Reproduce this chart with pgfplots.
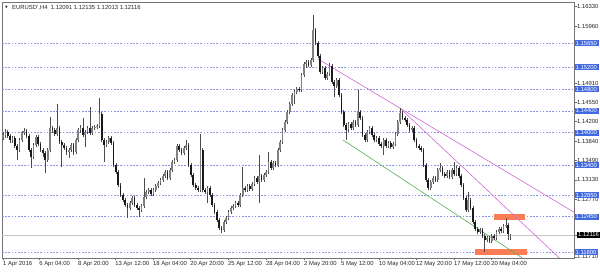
\documentclass[border=0pt]{standalone}
\usepackage{fontspec}
\setmainfont{Liberation Sans}
\newfontfamily\dv{DejaVu Sans}
\usepackage{pgfplots}
\usepackage{pgfplotstable}
\pgfplotsset{compat=1.18}
\definecolor{lblue}{RGB}{65,105,225}
\definecolor{gridblue}{RGB}{135,145,232}
\definecolor{pinkline}{RGB}{205,105,210}
\definecolor{greenline}{RGB}{85,175,85}
\definecolor{orangebox}{RGB}{250,125,85}
\newcommand{\lbl}{\fontsize{5.9}{6.6}\selectfont}
\setlength{\fboxsep}{0.9pt}
\newcommand{\bl}[1]{\colorbox{lblue}{\lbl\textcolor{white}{#1}\hspace{0.8pt}}}
\newcommand{\bk}[1]{\colorbox{black}{\lbl\textcolor{white}{#1}\hspace{0.8pt}}}

\pgfplotstableread{
i o h l c
0 1.1390 1.1401 1.1386 1.1396
1 1.1396 1.1406 1.1390 1.1401
2 1.1401 1.1405 1.1390 1.1394
3 1.1394 1.1398 1.1381 1.1386
4 1.1386 1.1394 1.1381 1.1390
5 1.1390 1.1393 1.1371 1.1375
6 1.1375 1.1379 1.1350 1.1368
7 1.1368 1.1390 1.1364 1.1386
8 1.1386 1.1403 1.1383 1.1399
9 1.1399 1.1408 1.1395 1.1403
10 1.1403 1.1407 1.1390 1.1394
11 1.1394 1.1397 1.1364 1.1368
12 1.1368 1.1372 1.1335 1.1355
13 1.1355 1.1381 1.1351 1.1377
14 1.1377 1.1396 1.1373 1.1392
15 1.1392 1.1395 1.1375 1.1379
16 1.1379 1.1383 1.1364 1.1368
17 1.1368 1.1372 1.1355 1.1362
18 1.1362 1.1366 1.1326 1.1350
19 1.1350 1.1372 1.1346 1.1368
20 1.1368 1.1429 1.1364 1.1408
21 1.1408 1.1412 1.1399 1.1405
22 1.1405 1.1409 1.1393 1.1397
23 1.1397 1.1453 1.1394 1.1408
24 1.1408 1.1412 1.1379 1.1383
25 1.1383 1.1387 1.1337 1.1377
26 1.1377 1.1381 1.1368 1.1372
27 1.1372 1.1376 1.1359 1.1364
28 1.1364 1.1372 1.1353 1.1368
29 1.1368 1.1381 1.1364 1.1377
30 1.1377 1.1380 1.1359 1.1364
31 1.1364 1.1390 1.1360 1.1386
32 1.1386 1.1409 1.1382 1.1405
33 1.1405 1.1413 1.1400 1.1408
34 1.1408 1.1427 1.1392 1.1396
35 1.1396 1.1405 1.1373 1.1401
36 1.1401 1.1412 1.1397 1.1408
37 1.1408 1.1447 1.1395 1.1399
38 1.1399 1.1412 1.1395 1.1408
39 1.1408 1.1414 1.1404 1.1410
40 1.1410 1.1416 1.1406 1.1412
41 1.1412 1.1464 1.1408 1.1434
42 1.1434 1.1438 1.1382 1.1386
43 1.1386 1.1390 1.1346 1.1377
44 1.1377 1.1387 1.1373 1.1383
45 1.1383 1.1394 1.1379 1.1390
46 1.1390 1.1394 1.1377 1.1381
47 1.1381 1.1385 1.1336 1.1340
48 1.1340 1.1344 1.1323 1.1327
49 1.1327 1.1331 1.1299 1.1303
50 1.1303 1.1307 1.1281 1.1285
51 1.1285 1.1289 1.1272 1.1276
52 1.1276 1.1280 1.1263 1.1267
53 1.1267 1.1271 1.1243 1.1261
54 1.1261 1.1274 1.1257 1.1270
55 1.1270 1.1284 1.1266 1.1280
56 1.1280 1.1284 1.1263 1.1267
57 1.1267 1.1271 1.1257 1.1261
58 1.1261 1.1265 1.1245 1.1257
59 1.1257 1.1269 1.1253 1.1265
60 1.1265 1.1316 1.1261 1.1281
61 1.1281 1.1295 1.1277 1.1291
62 1.1291 1.1298 1.1287 1.1294
63 1.1294 1.1298 1.1283 1.1287
64 1.1287 1.1298 1.1283 1.1294
65 1.1294 1.1306 1.1290 1.1302
66 1.1302 1.1311 1.1298 1.1307
67 1.1307 1.1317 1.1303 1.1313
68 1.1313 1.1324 1.1309 1.1320
69 1.1320 1.1331 1.1316 1.1327
70 1.1327 1.1331 1.1312 1.1316
71 1.1316 1.1335 1.1312 1.1331
72 1.1331 1.1350 1.1327 1.1346
73 1.1346 1.1354 1.1342 1.1350
74 1.1350 1.1379 1.1346 1.1375
75 1.1375 1.1379 1.1364 1.1368
76 1.1368 1.1372 1.1358 1.1362
77 1.1362 1.1376 1.1358 1.1372
78 1.1372 1.1386 1.1368 1.1377
79 1.1377 1.1381 1.1336 1.1340
80 1.1340 1.1344 1.1318 1.1322
81 1.1322 1.1326 1.1299 1.1303
82 1.1303 1.1307 1.1294 1.1298
83 1.1298 1.1302 1.1290 1.1294
84 1.1294 1.1397 1.1290 1.1368
85 1.1368 1.1372 1.1290 1.1294
86 1.1294 1.1298 1.1287 1.1291
87 1.1291 1.1302 1.1270 1.1298
88 1.1298 1.1302 1.1281 1.1285
89 1.1285 1.1289 1.1263 1.1267
90 1.1267 1.1271 1.1250 1.1254
91 1.1254 1.1258 1.1235 1.1239
92 1.1239 1.1243 1.1220 1.1224
93 1.1224 1.1228 1.1215 1.1221
94 1.1221 1.1239 1.1217 1.1235
95 1.1235 1.1247 1.1231 1.1243
96 1.1243 1.1258 1.1239 1.1254
97 1.1254 1.1265 1.1250 1.1261
98 1.1261 1.1269 1.1257 1.1265
99 1.1265 1.1274 1.1261 1.1270
100 1.1270 1.1274 1.1263 1.1267
101 1.1267 1.1289 1.1263 1.1285
102 1.1285 1.1337 1.1281 1.1298
103 1.1298 1.1302 1.1290 1.1294
104 1.1294 1.1306 1.1290 1.1302
105 1.1302 1.1306 1.1292 1.1296
106 1.1296 1.1309 1.1292 1.1305
107 1.1305 1.1320 1.1301 1.1316
108 1.1316 1.1320 1.1305 1.1309
109 1.1309 1.1359 1.1270 1.1320
110 1.1320 1.1324 1.1309 1.1313
111 1.1313 1.1326 1.1309 1.1322
112 1.1322 1.1331 1.1318 1.1327
113 1.1327 1.1364 1.1323 1.1346
114 1.1346 1.1350 1.1331 1.1335
115 1.1335 1.1348 1.1331 1.1344
116 1.1344 1.1348 1.1336 1.1340
117 1.1340 1.1372 1.1336 1.1368
118 1.1368 1.1387 1.1364 1.1383
119 1.1383 1.1409 1.1379 1.1405
120 1.1405 1.1424 1.1401 1.1420
121 1.1420 1.1442 1.1416 1.1438
122 1.1438 1.1457 1.1434 1.1453
123 1.1453 1.1473 1.1449 1.1469
124 1.1469 1.1479 1.1453 1.1475
125 1.1475 1.1484 1.1471 1.1480
126 1.1480 1.1484 1.1474 1.1478
127 1.1478 1.1510 1.1474 1.1506
128 1.1506 1.1530 1.1502 1.1526
129 1.1526 1.1534 1.1519 1.1530
130 1.1530 1.1534 1.1521 1.1525
131 1.1525 1.1538 1.1521 1.1534
132 1.1534 1.1617 1.1530 1.1589
133 1.1589 1.1593 1.1561 1.1565
134 1.1565 1.1569 1.1537 1.1541
135 1.1541 1.1545 1.1508 1.1512
136 1.1512 1.1523 1.1508 1.1519
137 1.1519 1.1523 1.1497 1.1501
138 1.1501 1.1512 1.1497 1.1508
139 1.1508 1.1528 1.1504 1.1523
140 1.1523 1.1527 1.1489 1.1493
141 1.1493 1.1497 1.1466 1.1486
142 1.1486 1.1501 1.1482 1.1497
143 1.1497 1.1501 1.1465 1.1469
144 1.1469 1.1473 1.1434 1.1438
145 1.1438 1.1442 1.1410 1.1414
146 1.1414 1.1418 1.1386 1.1405
147 1.1405 1.1420 1.1401 1.1416
148 1.1416 1.1420 1.1404 1.1408
149 1.1408 1.1424 1.1404 1.1420
150 1.1420 1.1424 1.1410 1.1414
151 1.1414 1.1478 1.1410 1.1438
152 1.1438 1.1442 1.1423 1.1427
153 1.1427 1.1431 1.1392 1.1396
154 1.1396 1.1400 1.1382 1.1386
155 1.1386 1.1405 1.1382 1.1401
156 1.1401 1.1412 1.1397 1.1408
157 1.1408 1.1412 1.1392 1.1396
158 1.1396 1.1400 1.1382 1.1386
159 1.1386 1.1394 1.1382 1.1390
160 1.1390 1.1394 1.1375 1.1379
161 1.1379 1.1383 1.1371 1.1375
162 1.1375 1.1390 1.1359 1.1386
163 1.1386 1.1390 1.1371 1.1375
164 1.1375 1.1385 1.1371 1.1381
165 1.1381 1.1385 1.1369 1.1373
166 1.1373 1.1383 1.1369 1.1379
167 1.1379 1.1401 1.1375 1.1397
168 1.1397 1.1424 1.1393 1.1420
169 1.1420 1.1445 1.1416 1.1436
170 1.1436 1.1440 1.1423 1.1427
171 1.1427 1.1431 1.1419 1.1423
172 1.1423 1.1427 1.1410 1.1414
173 1.1414 1.1418 1.1401 1.1405
174 1.1405 1.1412 1.1401 1.1408
175 1.1408 1.1412 1.1382 1.1386
176 1.1386 1.1390 1.1371 1.1375
177 1.1375 1.1379 1.1368 1.1372
178 1.1372 1.1376 1.1364 1.1368
179 1.1368 1.1372 1.1336 1.1340
180 1.1340 1.1344 1.1309 1.1313
181 1.1313 1.1317 1.1294 1.1298
182 1.1298 1.1313 1.1294 1.1309
183 1.1309 1.1320 1.1305 1.1316
184 1.1316 1.1320 1.1309 1.1313
185 1.1313 1.1335 1.1309 1.1331
186 1.1331 1.1344 1.1327 1.1335
187 1.1335 1.1339 1.1320 1.1324
188 1.1324 1.1328 1.1316 1.1320
189 1.1320 1.1331 1.1316 1.1327
190 1.1327 1.1331 1.1314 1.1318
191 1.1318 1.1335 1.1314 1.1331
192 1.1331 1.1346 1.1320 1.1324
193 1.1324 1.1339 1.1320 1.1335
194 1.1335 1.1339 1.1316 1.1320
195 1.1320 1.1324 1.1299 1.1303
196 1.1303 1.1307 1.1276 1.1280
197 1.1280 1.1284 1.1253 1.1257
198 1.1257 1.1291 1.1253 1.1276
199 1.1276 1.1280 1.1257 1.1261
200 1.1261 1.1265 1.1231 1.1235
201 1.1235 1.1239 1.1218 1.1222
202 1.1222 1.1226 1.1213 1.1217
203 1.1217 1.1225 1.1213 1.1221
204 1.1221 1.1225 1.1206 1.1210
205 1.1210 1.1214 1.1180 1.1202
206 1.1202 1.1210 1.1198 1.1206
207 1.1206 1.1210 1.1196 1.1200
208 1.1200 1.1214 1.1196 1.1210
209 1.1210 1.1214 1.1202 1.1206
210 1.1206 1.1221 1.1202 1.1217
211 1.1217 1.1226 1.1213 1.1222
212 1.1222 1.1226 1.1215 1.1219
213 1.1219 1.1232 1.1215 1.1228
214 1.1228 1.1243 1.1224 1.1230
215 1.1230 1.1234 1.1202 1.1213
216 1.12091 1.12135 1.12013 1.12116
}\candles

\begin{document}
\begin{tikzpicture}
\begin{axis}[
  scale only axis, width=572pt, height=256pt,
  at={(0pt,0pt)}, anchor=south west,
  xmin=-0.43, xmax=243, ymin=1.11689, ymax=1.16405,
  axis line style={black!55, line width=0.6pt},
  tick align=outside, major tick length=2.5pt,
  tick style={black!60, line width=0.4pt},
  xtick pos=bottom, ytick pos=right, yticklabel pos=right,
  /pgf/number format/assume math mode=true,
  xtick={0,15.4,31.9,47.7,63.8,79.6,95.7,111.9,128.1,143.8,160,175.7,191.9,207.7},
  xticklabels={1 Apr 2016,6 Apr 04:00,8 Apr 20:00,13 Apr 12:00,18 Apr 04:00,20 Apr 20:00,25 Apr 12:00,28 Apr 04:00,2 May 20:00,5 May 12:00,10 May 04:00,12 May 20:00,17 May 12:00,20 May 04:00},
  ytick={1.1171,1.12116,1.1277,1.1313,1.1349,1.1384,1.1420,1.1455,1.1491,1.1596,1.1633},
  yticklabels={1.11710,\bk{1.12116},1.12770,1.13130,1.13490,1.13840,1.14200,1.14550,1.14910,1.15960,1.16330},
  extra y ticks={1.1180,1.1245,1.1285,1.1340,1.1400,1.1440,1.1480,1.1520,1.1565},
  extra y tick labels={\bl{1.11800},\bl{1.12450},\bl{1.12850},\bl{1.13400},\bl{1.14000},\bl{1.14400},\bl{1.14800},\bl{1.15200},\bl{1.15650}},
  extra y tick style={grid=major, major tick length=0pt,
     major grid style={gridblue, line width=0.6pt, dash pattern=on 1.6pt off 1.6pt}},
  ticklabel style={font=\lbl, text=black!85},
  xticklabel style={anchor=north west, inner sep=0.6pt, xshift=-0.6pt},
  yticklabel style={inner sep=0.5pt},
  clip=true,
]
% current price line
\addplot[forget plot, black!22, line width=0.6pt] coordinates {(-1,1.12116) (250,1.12116)};
% orange zones
\addplot[forget plot, fill=orangebox, draw=none] coordinates {(208.9,1.1250) (222.1,1.1250) (222.1,1.12389) (208.9,1.12389)};
\addplot[forget plot, fill=orangebox, draw=none] coordinates {(200.9,1.11855) (223,1.11855) (223,1.11745) (200.9,1.11745)};
% trend lines
\addplot[forget plot, pinkline, line width=0.6pt] coordinates {(134.0,1.15355) (243.5,1.12520)};
\addplot[forget plot, pinkline, line width=0.6pt] coordinates {(168.9,1.14452) (237,1.1168)};
\addplot[forget plot, greenline, line width=0.6pt] coordinates {(144.7,1.13863) (221,1.1169)};
% wicks
\addplot[forget plot, draw=none, mark=none,
  error bars/.cd, y dir=plus, y explicit, error mark=none,
  error bar style={draw=black!70, line width=0.55pt}]
  table[x=i, y=l, y error plus expr=\thisrow{h}-\thisrow{l}] {\candles};
% bull bodies
\addplot[forget plot, draw=none, mark=none,
  restrict expr to domain={\thisrow{c}-\thisrow{o}}{0:1},
  error bars/.cd, y dir=plus, y explicit, error mark=none,
  error bar style={draw=black!50, line width=1.7pt}]
  table[x=i, y=o, y error plus expr=\thisrow{c}-\thisrow{o}] {\candles};
% bear bodies
\addplot[forget plot, draw=none, mark=none,
  restrict expr to domain={\thisrow{o}-\thisrow{c}}{0.00001:1},
  error bars/.cd, y dir=plus, y explicit, error mark=none,
  error bar style={draw=black!90, line width=1.7pt}]
  table[x=i, y=c, y error plus expr=\thisrow{o}-\thisrow{c}] {\candles};
% title
\node[anchor=west, inner sep=0pt, font=\dv\fontsize{3.5}{4}\selectfont, text=black!80] at (rel axis cs:0,1) [xshift=3pt, yshift=-6pt] {▼};
\node[anchor=west, inner sep=0pt, font=\lbl, text=black!85] at (rel axis cs:0,1) [xshift=10pt, yshift=-6pt] {EURUSD',H4\ \ 1.12091 1.12135 1.12013 1.12116};
\end{axis}
\pgfresetboundingbox
\path[use as bounding box] (-2pt,-15pt) rectangle (598pt,258pt);
\end{tikzpicture}
\end{document}
